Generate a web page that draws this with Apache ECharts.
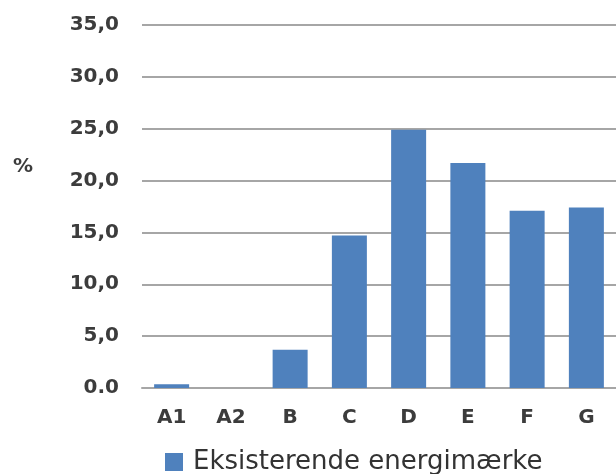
<!DOCTYPE html>
<html>
<head>
<meta charset="utf-8">
<script src="https://cdn.jsdelivr.net/npm/echarts@6/dist/echarts.min.js"></script>
<style>
html,body{margin:0;padding:0;background:#fff;}
#chart{width:616px;height:474px;}
</style>
</head>
<body>
<div id="chart"></div>
<script>
const categories = ['A1', 'A2', 'B', 'C', 'D', 'E', 'F', 'G'];
const seriesName = 'Eksisterende energimærke';
const values = [0.35, 0, 3.7, 14.7, 24.9, 21.7, 17.1, 17.4];
const yTickLabels = {0: '0.0', 5: '5,0', 10: '10,0', 15: '15,0', 20: '20,0', 25: '25,0', 30: '30,0', 35: '35,0'};
const yUnit = '%';

const chart = echarts.init(document.getElementById('chart'), null, {renderer: 'canvas'});
const textColor = '#3c3c3c';
const font = 'DejaVu Sans';
chart.setOption({
  animation: false,
  backgroundColor: '#ffffff',
  title: {
    text: yUnit,
    left: 13,
    top: 157,
    padding: 0,
    textStyle: {fontFamily: font, fontSize: 20, fontWeight: 'bold', color: textColor}
  },
  grid: {left: 142, right: -14, top: 25, bottom: 86, containLabel: false},
  legend: {
    data: [seriesName],
    left: 165,
    top: 449,
    padding: 0,
    itemWidth: 18,
    itemHeight: 18,
    icon: 'rect',
    textStyle: {fontFamily: font, fontSize: 26, lineHeight: 26, color: '#333333', padding: [0, 0, 0, 5]}
  },
  xAxis: {
    type: 'category',
    data: categories,
    axisLine: {show: true, lineStyle: {color: '#a6a6a6', width: 2}},
    axisTick: {show: false},
    axisLabel: {fontFamily: font, fontSize: 20, fontWeight: 'bold', color: textColor, margin: 20, interval: 0}
  },
  yAxis: {
    type: 'value',
    min: 0,
    max: 35,
    interval: 5,
    axisLine: {show: false},
    axisTick: {show: false},
    splitLine: {show: true, lineStyle: {color: '#a6a6a6', width: 2}},
    axisLabel: {
      fontFamily: font, fontSize: 20, fontWeight: 'bold', color: textColor, margin: 23,
      formatter: function (v) { return yTickLabels[v] !== undefined ? yTickLabels[v] : String(v); }
    }
  },
  series: [{
    name: seriesName,
    type: 'bar',
    data: values,
    barWidth: 35,
    itemStyle: {color: '#4f81bd'}
  }]
});
</script>
</body>
</html>
